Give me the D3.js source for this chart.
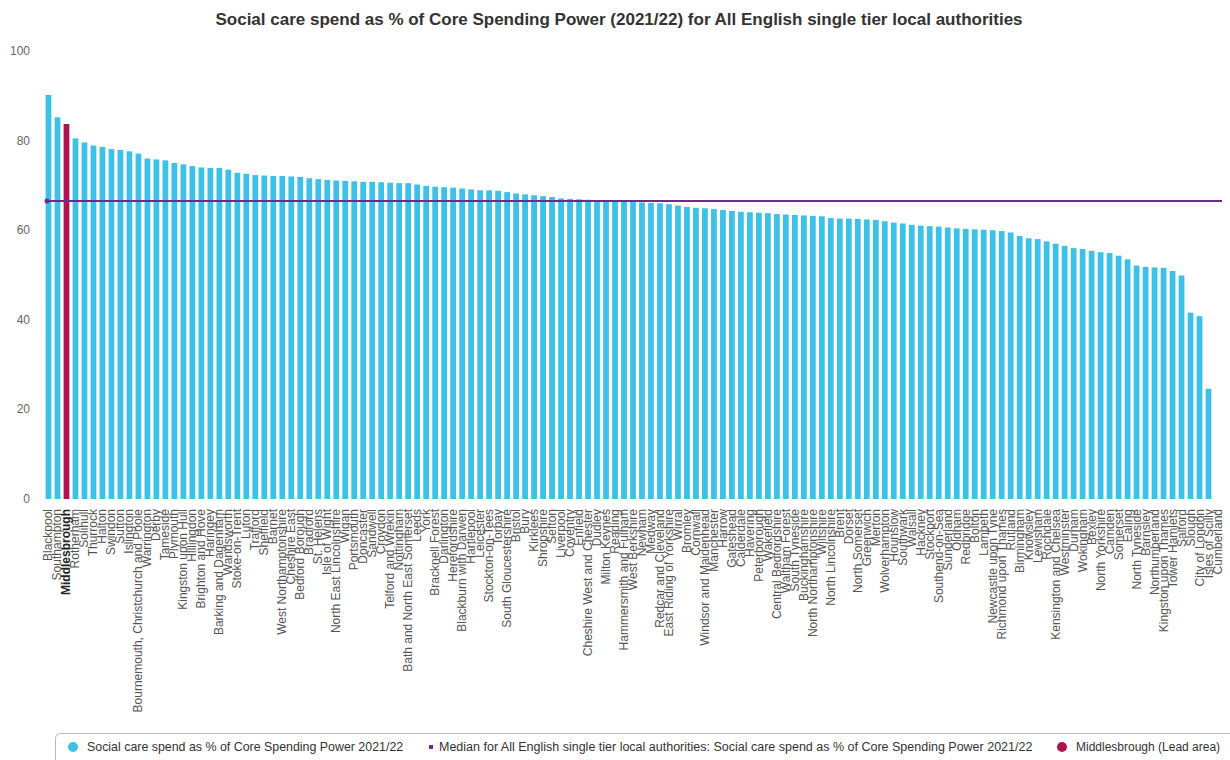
<!DOCTYPE html>
<html><head><meta charset="utf-8">
<script src="https://cdn.jsdelivr.net/npm/d3@7/dist/d3.min.js"></script>
<style>
body{margin:0;background:#fff;}
svg{display:block;font-family:"Liberation Sans",Arial,sans-serif;}
</style></head>
<body>
<svg id="c" width="1230" height="760"></svg>
<script>
const categories = ["Blackpool","Southampton","Middlesbrough","Rotherham","Solihull","Thurrock","Halton","Swindon","Sutton","Islington","Bournemouth, Christchurch and Poole","Warrington","Derby","Tameside","Plymouth","Kingston upon Hull","Hillingdon","Brighton and Hove","Haringey","Barking and Dagenham","Wandsworth","Stoke-on-Trent","Luton","Trafford","Sheffield","Barnet","West Northamptonshire","Cheshire East","Bedford Borough","Bradford","St. Helens","Isle of Wight","North East Lincolnshire","Wigan","Portsmouth","Doncaster","Sandwell","Croydon","Telford and Wrekin","Nottingham","Bath and North East Somerset","Leeds","York","Bracknell Forest","Darlington","Herefordshire","Blackburn with Darwen","Hartlepool","Leicester","Stockton-on-Tees","Torbay","South Gloucestershire","Bristol","Bury","Kirklees","Shropshire","Sefton","Liverpool","Coventry","Enfield","Cheshire West and Chester","Dudley","Milton Keynes","Reading","Hammersmith and Fulham","West Berkshire","Newham","Medway","Redcar and Cleveland","East Riding of Yorkshire","Wirral","Bromley","Cornwall","Windsor and Maidenhead","Manchester","Harrow","Gateshead","Calderdale","Havering","Peterborough","Wakefield","Central Bedfordshire","Waltham Forest","South Tyneside","Buckinghamshire","North Northamptonshire","Wiltshire","North Lincolnshire","Brent","Dorset","North Somerset","Greenwich","Merton","Wolverhampton","Hounslow","Southwark","Walsall","Hackney","Stockport","Southend-on-Sea","Sunderland","Oldham","Redbridge","Bolton","Lambeth","Newcastle upon Tyne","Richmond upon Thames","Rutland","Birmingham","Knowsley","Lewisham","Rochdale","Kensington and Chelsea","Westminster","Durham","Wokingham","Bexley","North Yorkshire","Camden","Somerset","Ealing","North Tyneside","Barnsley","Northumberland","Kingston upon Thames","Tower Hamlets","Salford","Slough","City of London","Isles of Scilly","Cumberland"];

const values = [90.2,85.2,83.7,80.5,79.6,78.9,78.6,78.1,77.9,77.6,77.1,76.0,75.8,75.6,75.0,74.7,74.3,74.0,73.9,73.9,73.5,72.8,72.6,72.3,72.2,72.1,72.1,72.0,71.9,71.6,71.4,71.2,71.1,71.0,70.9,70.8,70.8,70.7,70.6,70.5,70.5,70.2,69.9,69.7,69.6,69.5,69.3,69.1,68.9,68.9,68.8,68.5,68.2,68.0,67.8,67.6,67.4,67.1,67.0,66.9,66.8,66.6,66.5,66.4,66.4,66.3,66.2,66.1,66.0,65.8,65.5,65.2,65.0,64.9,64.7,64.5,64.3,64.1,64.0,63.9,63.8,63.6,63.5,63.4,63.3,63.2,63.1,62.7,62.6,62.6,62.5,62.4,62.3,62.0,61.7,61.5,61.2,61.0,60.9,60.8,60.6,60.4,60.3,60.2,60.1,60.0,59.8,59.5,58.7,58.2,58.0,57.5,57.0,56.5,56.0,55.8,55.4,55.1,54.9,54.3,53.5,52.1,51.8,51.7,51.6,50.9,49.9,41.6,40.8,24.6,null];

const median = 66.5;
const leadArea = "Middlesbrough";
const yTicks = [0,20,40,60,80,100];
const seriesNames = ["Social care spend as % of Core Spending Power 2021/22","Median for All English single tier local authorities: Social care spend as % of Core Spending Power 2021/22","Middlesbrough (Lead area)"];
const colors = {bar:"#3ec1e6", median:"#74278f", lead:"#b0124f"};

const svg = d3.select("#c");
const x = d3.scaleBand().domain(categories).range([44,1222]).paddingInner(0.36).paddingOuter(0.18);
const y = d3.scaleLinear().domain([0,100]).range([499,51]);

// title
svg.append("text").attr("x",619).attr("y",25).attr("text-anchor","middle")
  .attr("font-size",17).attr("font-weight","bold").attr("fill","#333")
  .text("Social care spend as % of Core Spending Power (2021/22) for All English single tier local authorities");

// y axis labels
svg.append("g").selectAll("text").data(yTicks).join("text")
  .attr("x",30).attr("y",d=>y(d)+4).attr("text-anchor","end")
  .attr("font-size",12).attr("fill","#666").text(d=>d);

// bars
const data = categories.map((c,i)=>({c,v:values[i]})).filter(d=>d.v!=null);
svg.append("g").selectAll("rect").data(data).join("rect")
  .attr("x",d=>x(d.c)).attr("width",x.bandwidth())
  .attr("y",d=>y(d.v)).attr("height",d=>y(0)-y(d.v))
  .attr("fill",d=>d.c===leadArea?colors.lead:colors.bar);

// median line
svg.append("line").attr("x1",x.range()[0]+2).attr("x2",x.range()[1])
  .attr("y1",y(median)).attr("y2",y(median))
  .attr("stroke",colors.median).attr("stroke-width",2);
svg.append("circle").attr("cx",x.range()[0]+3).attr("cy",y(median)).attr("r",2.5).attr("fill",colors.median);

// x labels
svg.append("g").selectAll("text").data(categories).join("text")
  .attr("transform",d=>`translate(${x(d)+x.bandwidth()/2+4},509) rotate(-90)`)
  .attr("text-anchor","end").attr("font-size",12)
  .attr("fill",d=>d===leadArea?"#222":"#555")
  .attr("font-weight",d=>d===leadArea?"bold":"normal")
  .text(d=>d);

// legend
const lg = svg.append("g");
lg.append("rect").attr("x",55.5).attr("y",733.5).attr("width",1200).attr("height",40).attr("rx",5)
  .attr("fill","#fff").attr("stroke","#bbb");
lg.append("circle").attr("cx",73).attr("cy",747).attr("r",5).attr("fill",colors.bar);
lg.append("text").attr("x",87).attr("y",751).attr("font-size",12.4).attr("fill","#333").text(seriesNames[0]);
lg.append("rect").attr("x",429).attr("y",745).attr("width",4).attr("height",4).attr("fill",colors.median);
lg.append("text").attr("x",439).attr("y",751).attr("font-size",12.5).attr("fill","#333").text(seriesNames[1]);
lg.append("circle").attr("cx",1062).attr("cy",747).attr("r",5).attr("fill",colors.lead);
lg.append("text").attr("x",1076).attr("y",751).attr("font-size",12).attr("fill","#333").text(seriesNames[2]);
</script>
</body></html>
